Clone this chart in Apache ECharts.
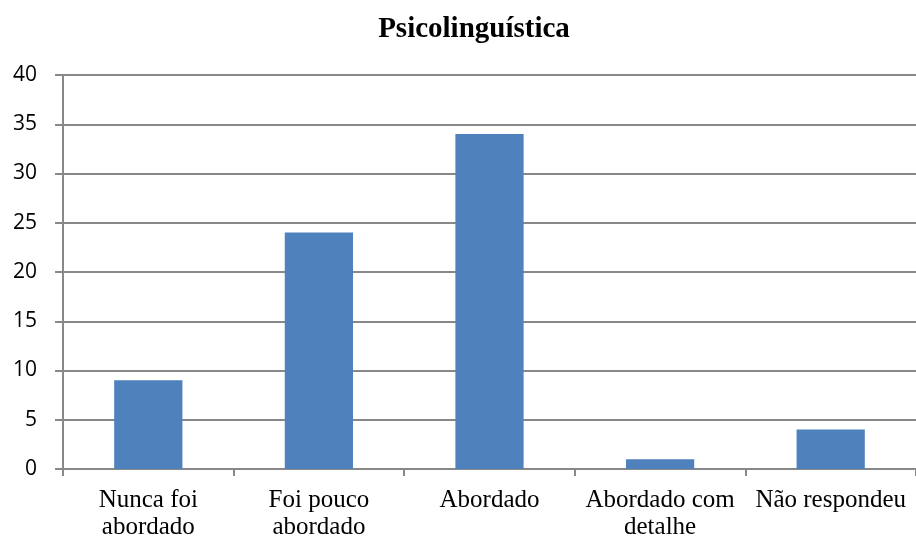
<!DOCTYPE html>
<html>
<head>
<meta charset="utf-8">
<script src="https://cdn.jsdelivr.net/npm/echarts@6/dist/echarts.min.js"></script>
<style>
  html, body { margin: 0; padding: 0; background: #fff; }
  #chart { width: 916px; height: 541px; }
</style>
</head>
<body>
<div id="chart"></div>
<script>
// data
const chartTitle = 'Psicolinguística'
const categories = ['Nunca foi\nabordado', 'Foi pouco\nabordado', 'Abordado', 'Abordado com\ndetalhe', 'Não respondeu']
const values = [9, 24, 34, 1, 4]
const yMin = 0, yMax = 40, yStep = 5

const gridColor = '#888888'
const myChart = echarts.init(document.getElementById('chart'))

const option = {
    animation: false,
    title: {
        text: chartTitle,
        left: 469,
        top: 10,
        textAlign: 'center',
        textStyle: {
            fontFamily: 'Liberation Serif',
            fontSize: 29,
            fontWeight: 'bold',
            color: '#000',
        },
    },
    grid: {
        left: 63,
        top: 75,
        width: 860,
        height: 394,
        containLabel: false,
    },
    xAxis: {
        type: 'category',
        data: categories,
        axisLine: { lineStyle: { color: gridColor, width: 2 } },
        axisTick: { show: true, length: 7, alignWithLabel: false, lineStyle: { color: gridColor, width: 2 } },
        axisLabel: {
            interval: 0,
            margin: 18,
            fontFamily: 'Liberation Serif',
            fontSize: 25,
            lineHeight: 27,
            color: '#000',
        },
    },
    yAxis: {
        type: 'value',
        min: yMin,
        max: yMax,
        interval: yStep,
        axisLine: { show: true, lineStyle: { color: gridColor, width: 2 } },
        axisTick: { show: true, length: 8, lineStyle: { color: gridColor, width: 2 } },
        splitLine: { lineStyle: { color: gridColor, width: 2 } },
        axisLabel: {
            margin: 26,
            fontFamily: 'Open Sans',
            fontSize: 21,
            color: '#000',
        },
    },
    series: [
        {
            type: 'bar',
            data: values,
            barWidth: '40%',
            itemStyle: { color: '#4F81BD' },
        },
    ],
}

myChart.setOption(option)
</script>
</body>
</html>
